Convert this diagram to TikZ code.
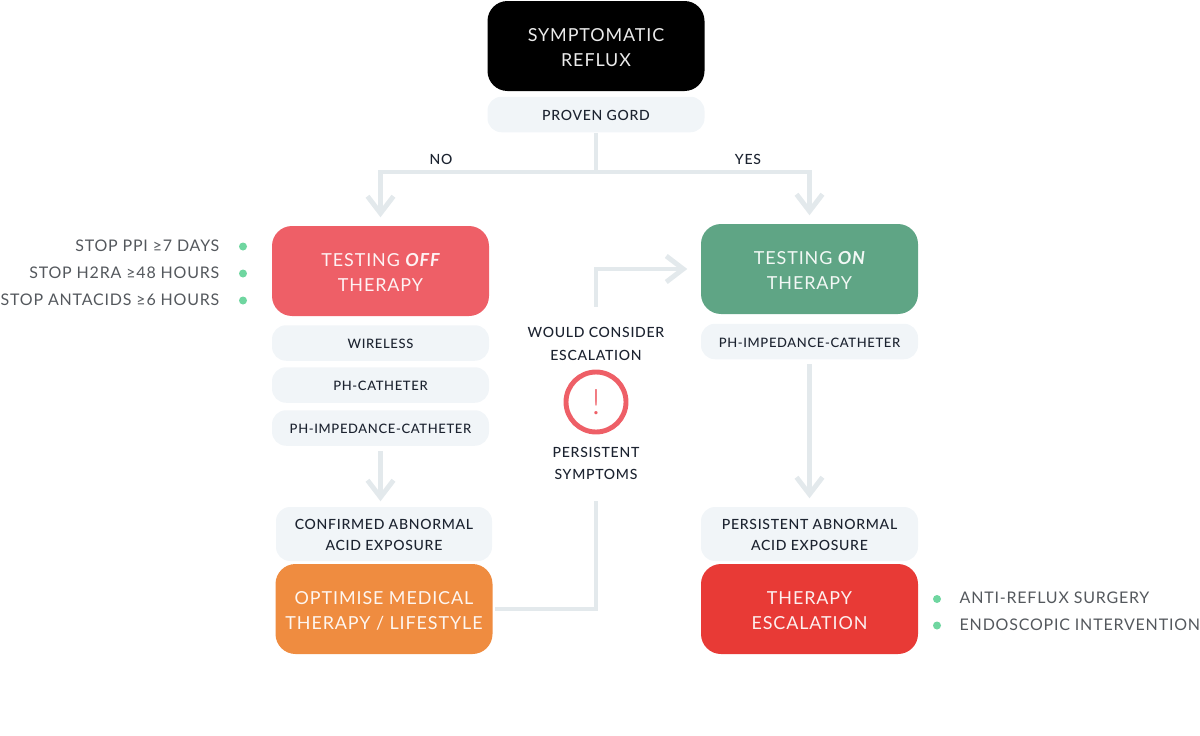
\documentclass[tikz,border=0pt]{standalone}
\usepackage{fontspec}
\setmainfont{Lato}[LetterSpace=5]
\newfontfamily\lightfont{Lato Light}[LetterSpace=5]
\newfontfamily\mediumfont{Lato Medium}[LetterSpace=5]
\usepackage{tikz}
\usetikzlibrary{arrows.meta}
\definecolor{linegrey}{HTML}{E3E9EC}
\definecolor{palebox}{HTML}{F1F5F8}
\definecolor{darktext}{HTML}{1C2330}
\definecolor{sidetext}{HTML}{54585D}
\definecolor{dotgreen}{HTML}{6FD6A0}
\definecolor{offred}{HTML}{EE5F67}
\definecolor{ongreen}{HTML}{5FA585}
\definecolor{optorange}{HTML}{EF8C40}
\definecolor{escred}{HTML}{E83A36}
% pushes the first line of a box down a little
\newcommand{\headlift}{\rule{0pt}{4.8pt}}
\newcommand{\twolift}{\rule{0pt}{3.5pt}}
\tikzset{
  bigbox/.style={rounded corners=0.2cm, minimum width=2.17cm, minimum height=0.9cm, inner sep=0pt,
    align=center, text=white!92!#1, fill=#1, font=\fontsize{5.1}{7.1}\selectfont},
  testbox/.style={rounded corners=0.14cm, fill=palebox, minimum width=2.17cm, minimum height=0.355cm,
    inner sep=0pt, align=center, text=darktext, font=\fontsize{3.7}{5.95}\selectfont\mediumfont,
    execute at begin node={\rule{0pt}{3.4pt}}},
  twolinebox/.style={rounded corners=0.14cm, fill=palebox, minimum width=2.17cm, minimum height=0.54cm,
    inner sep=0pt, align=center, text=darktext, font=\fontsize{4}{5.95}\selectfont\mediumfont},
  plainlabel/.style={align=center, inner sep=0pt, text=darktext, font=\fontsize{4}{6.35}\selectfont\mediumfont},
  sidelabel/.style={inner sep=0pt, text=sidetext, font=\fontsize{4.55}{6}\selectfont},
  gdot/.style={circle, fill=dotgreen, minimum size=0.08cm, inner sep=0pt},
  flow/.style={draw=linegrey, line width=1.4pt},
  flowarrow/.style={flow, -{Straight Barb[length=0.17cm, width=0.26cm, line width=1.4pt]}}
}
\begin{document}
\begin{tikzpicture}
  \useasboundingbox (0,0) rectangle (12,-7.36);
  % top
  \node[bigbox=black] (reflux) at (5.96,-0.46) {\headlift SYMPTOMATIC\\REFLUX};
  \node[testbox] (gord) at (5.96,-1.145) {\fontsize{4}{6}\selectfont PROVEN GORD};
  \node[plainlabel] (no) at (4.41,-1.595) {NO};
  \node[plainlabel] (yes) at (7.48,-1.595) {YES};
  % left column
  \node[bigbox=offred] (off) at (3.805,-2.71) {\headlift TESTING {\normalfont\bfseries\itshape OFF}\\THERAPY};
  \node[testbox] (wireless) at (3.805,-3.43) {WIRELESS};
  \node[testbox] (catheter) at (3.805,-3.85) {PH-CATHETER};
  \node[testbox] (impedance) at (3.805,-4.28) {PH-IMPEDANCE-CATHETER};
  \node[twolinebox, minimum width=2.16cm] (confirmed) at (3.84,-5.34) {\twolift CONFIRMED ABNORMAL\\ACID EXPOSURE};
  \node[bigbox=optorange] (optimise) at (3.84,-6.09) {\headlift OPTIMISE MEDICAL\\THERAPY / LIFESTYLE};
  % right column
  \node[bigbox=ongreen] (on) at (8.095,-2.69) {\headlift TESTING {\normalfont\bfseries\itshape ON}\\THERAPY};
  \node[testbox] (impedanceb) at (8.095,-3.415) {PH-IMPEDANCE-CATHETER};
  \node[twolinebox] (abnormal) at (8.095,-5.34) {\twolift PERSISTENT ABNORMAL\\ACID EXPOSURE};
  \node[bigbox=escred] (escalation) at (8.095,-6.09) {\headlift THERAPY\\ESCALATION};
  % middle
  \node[plainlabel] (consider) at (5.96,-3.44) {WOULD CONSIDER\\ESCALATION};
  \node[circle, draw=offred, line width=1.4pt, minimum size=0.6cm, inner sep=0pt, text=offred, font=\fontsize{10}{10}\selectfont\lightfont] (warn) at (5.96,-4.02) {!};
  \node[plainlabel] (persistent) at (5.96,-4.635) {PERSISTENT\\SYMPTOMS};
  % side lists
  \node[sidelabel, anchor=east] (ppi) at (2.2,-2.46) {STOP PPI ≥7 DAYS};
  \node[sidelabel, anchor=east] (h2ra) at (2.2,-2.73) {STOP H2RA ≥48 HOURS};
  \node[sidelabel, anchor=east] (antacids) at (2.2,-3.0) {STOP ANTACIDS ≥6 HOURS};
  \node[gdot] (dota) at (2.43,-2.465) {};
  \node[gdot] (dotb) at (2.43,-2.735) {};
  \node[gdot] (dotc) at (2.43,-3.005) {};
  \node[sidelabel, anchor=west] (surgery) at (9.59,-5.98) {ANTI-REFLUX SURGERY};
  \node[sidelabel, anchor=west] (endoscopic) at (9.59,-6.25) {ENDOSCOPIC INTERVENTION};
  \node[gdot] (dotd) at (9.37,-5.99) {};
  \node[gdot] (dote) at (9.37,-6.255) {};
  % connectors
  \draw[flow] (gord.south) -- (5.96,-1.72) coordinate (fork);
  \draw[flowarrow, shorten >=0.08cm] (fork) -| (off.north);
  \draw[flowarrow, shorten >=0.08cm] (fork) -| (on.north);
  \draw[flowarrow, shorten <=0.05cm, shorten >=0.05cm] (impedance.south) -- (impedance.south |- confirmed.north);
  \draw[flowarrow, shorten <=0.04cm, shorten >=0.08cm] (impedanceb.south) -- (abnormal.north);
  \draw[flow, shorten <=0.02cm, shorten >=0.2cm] (optimise.east) -| (persistent.south);
  \draw[flowarrow, shorten <=0.2cm, shorten >=0.13cm] (consider.north) |- (on.west);
\end{tikzpicture}
\end{document}
